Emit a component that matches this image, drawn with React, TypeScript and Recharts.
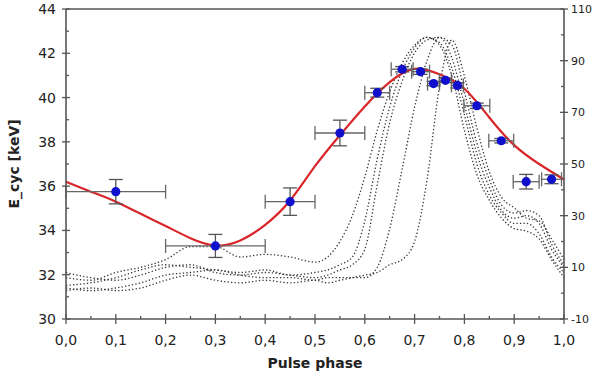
import { ComposedChart, ErrorBar, Label, Line, ReferenceLine, Scatter, XAxis, YAxis } from "recharts";

// pulse profiles (right axis), dotted
const profilePhase = [0, 0.05, 0.1, 0.15, 0.2, 0.25, 0.3, 0.35, 0.4, 0.45, 0.5, 0.525, 0.55, 0.575, 0.6, 0.625, 0.65, 0.675, 0.7, 0.725, 0.75, 0.775, 0.8, 0.825, 0.85, 0.875, 0.9, 0.925, 0.95, 0.975, 1.0];
const profile1 = [6, 5, 8, 10, 13, 18, 18, 14, 15, 14, 12, 14, 20, 30, 45, 63, 78, 89, 96, 99, 96, 84, 63, 46, 36, 29, 25, 24, 21, 13, 6];
const profile2 = [3, 4, 6, 9, 11, 10, 9, 8, 9, 7, 8, 9, 11, 14, 28, 52, 72, 86, 95, 99, 97, 87, 69, 50, 38, 31, 27, 27, 23, 14, 8];
const profile3 = [8, 6, 5, 7, 10, 11, 8, 7, 8, 7, 6, 7, 9, 11, 17, 42, 66, 82, 93, 98, 99, 91, 73, 54, 41, 32, 29, 30, 27, 17, 10];
const profile4 = [2, 1, 2, 4, 7, 8, 9, 7, 6, 6, 5, 6, 6, 6, 6, 10, 25, 48, 72, 90, 99, 96, 78, 58, 44, 34, 31, 32, 30, 19, 11];
const profile5 = [1, 2, 1, 2, 5, 7, 5, 4, 5, 4, 5, 4, 5, 6, 7, 8, 11, 13, 20, 44, 80, 98, 84, 64, 47, 37, 33, 29, 28, 21, 13];

// model curve (red)
const curvePhase = [0, 0.05, 0.1, 0.15, 0.2, 0.25, 0.3, 0.35, 0.4, 0.45, 0.5, 0.55, 0.6, 0.65, 0.7, 0.75, 0.8, 0.85, 0.9, 0.95, 1.0];
const curveEnergy = [36.2, 35.75, 35.3, 34.75, 34.2, 33.65, 33.32, 33.55, 34.25, 35.35, 36.9, 38.3, 39.6, 40.7, 41.3, 41.05, 40.4, 39.1, 37.85, 37.0, 36.3];

// measured cyclotron energies
const pointPhase = [0.1, 0.3, 0.45, 0.55, 0.625, 0.675, 0.712, 0.738, 0.762, 0.786, 0.825, 0.874, 0.924, 0.975];
const pointEnergy = [35.75, 33.3, 35.3, 38.4, 40.22, 41.28, 41.17, 40.63, 40.78, 40.55, 39.63, 38.05, 36.2, 36.31];
const phaseErr = [0.1, 0.1, 0.05, 0.05, 0.025, 0.022, 0.018, 0.012, 0.012, 0.012, 0.026, 0.025, 0.026, 0.02];
const energyErr = [0.55, 0.52, 0.62, 0.58, 0.2, 0.12, 0.12, 0.1, 0.1, 0.12, 0.12, 0.1, 0.33, 0.2];

const phaseTicks = [0, 0.05, 0.1, 0.15, 0.2, 0.25, 0.3, 0.35, 0.4, 0.45, 0.5, 0.55, 0.6, 0.65, 0.7, 0.75, 0.8, 0.85, 0.9, 0.95, 1.0];
const energyTicks = [30, 31, 32, 33, 34, 35, 36, 37, 38, 39, 40, 41, 42, 43, 44];
const countTicks = [-10, 0, 10, 20, 30, 40, 50, 60, 70, 80, 90, 100, 110];

const profiles = [profile1, profile2, profile3, profile4, profile5];
const profileData = profilePhase.map((phase, i) => {
  const row: Record<string, number> = { phase };
  profiles.forEach((p, k) => (row[`p${k + 1}`] = p[i]));
  return row;
});
const curveData = curvePhase.map((phase, i) => ({ phase, energy: curveEnergy[i] }));
const pointData = pointPhase.map((phase, i) => ({
  phase,
  energy: pointEnergy[i],
  xErr: phaseErr[i],
  yErr: energyErr[i],
}));

const AXIS = "#555";
const TEXT = "#222";
const FONT = "'DejaVu Sans', Verdana, sans-serif";

function BottomTick({ x, y, payload }: any) {
  const v = payload.value as number;
  const major = Math.round(v * 100) % 10 === 0;
  return (
    <g>
      <line x1={x} x2={x} y1={major ? y - 5 : y - 3} y2={major ? y + 5 : y} stroke={AXIS} strokeWidth={1.3} />
      {major && (
        <text x={x} y={y + 26} textAnchor="middle" fontSize={14} fill={TEXT} fontFamily={FONT}>
          {v.toFixed(1).replace(".", ",")}
        </text>
      )}
    </g>
  );
}

function LeftTick({ x, y, payload }: any) {
  const v = payload.value as number;
  const major = v % 2 === 0;
  return (
    <g>
      <line x1={major ? x - 4 : x} x2={major ? x + 4 : x + 3} y1={y} y2={y} stroke={AXIS} strokeWidth={1.3} />
      {major && (
        <text x={x - 10} y={y + 5} textAnchor="end" fontSize={14} fill={TEXT} fontFamily={FONT}>
          {v}
        </text>
      )}
    </g>
  );
}

function RightTick({ x, y, payload }: any) {
  const v = payload.value as number;
  const major = (v + 10) % 20 === 0;
  return (
    <g>
      <line x1={major ? x - 4 : x - 3} x2={major ? x + 4 : x} y1={y} y2={y} stroke={AXIS} strokeWidth={1.3} />
      {major && (
        <text x={x + 7} y={y + 4} textAnchor="start" fontSize={11} fill={TEXT} fontFamily={FONT}>
          {v}
        </text>
      )}
    </g>
  );
}

function Dot({ cx, cy }: any) {
  return <circle cx={cx} cy={cy} r={4.6} fill="#1010cc" />;
}

export default function App() {
  return (
    <div style={{ position: "absolute", left: 0, top: 0, background: "#fff" }}>
      <ComposedChart width={592} height={379} data={profileData} margin={{ top: 9, right: 0, bottom: 0, left: 0 }}>
        <XAxis
          dataKey="phase"
          type="number"
          domain={[0, 1]}
          ticks={phaseTicks}
          interval={0}
          height={60}
          tickSize={0}
          tickMargin={0}
          tick={<BottomTick />}
          tickLine={false}
          axisLine={{ stroke: AXIS, strokeWidth: 1.6 }}
        >
          <Label
            value="Pulse phase"
            position="insideBottom"
            offset={11}
            style={{ fontSize: 14, fontWeight: 700, fontFamily: FONT, fill: TEXT }}
          />
        </XAxis>
        <YAxis
          yAxisId="left"
          type="number"
          domain={[30, 44]}
          ticks={energyTicks}
          interval={0}
          width={66}
          tickSize={0}
          tickMargin={0}
          tick={<LeftTick />}
          tickLine={false}
          axisLine={{ stroke: AXIS, strokeWidth: 1.6 }}
        >
          <Label
            value="E_cyc [keV]"
            angle={-90}
            position="insideLeft"
            offset={14}
            style={{ textAnchor: "middle", fontSize: 14, fontWeight: 700, fontFamily: FONT, fill: TEXT }}
          />
        </YAxis>
        <YAxis
          yAxisId="right"
          orientation="right"
          type="number"
          domain={[-10, 110]}
          ticks={countTicks}
          interval={0}
          width={28}
          tickSize={0}
          tickMargin={0}
          tick={<RightTick />}
          tickLine={false}
          axisLine={{ stroke: AXIS, strokeWidth: 1.6 }}
        />
        <ReferenceLine yAxisId="left" y={44} stroke={AXIS} strokeWidth={1.4} />
        {profiles.map((_, k) => (
          <Line
            key={k}
            yAxisId="right"
            dataKey={`p${k + 1}`}
            type="monotone"
            stroke="#333"
            strokeWidth={1.3}
            strokeDasharray="1.3 2.2"
            dot={false}
            activeDot={false}
            isAnimationActive={false}
          />
        ))}
        <Line
          yAxisId="left"
          data={curveData}
          dataKey="energy"
          type="natural"
          stroke="#d8262a"
          strokeWidth={2.2}
          dot={false}
          activeDot={false}
          isAnimationActive={false}
        />
        <Scatter yAxisId="left" data={pointData} dataKey="energy" shape={<Dot />} isAnimationActive={false}>
          <ErrorBar dataKey="xErr" direction="x" width={7} stroke="#666" strokeWidth={1.3} />
          <ErrorBar dataKey="yErr" direction="y" width={7} stroke="#555" strokeWidth={1.3} />
        </Scatter>
      </ComposedChart>
    </div>
  );
}
